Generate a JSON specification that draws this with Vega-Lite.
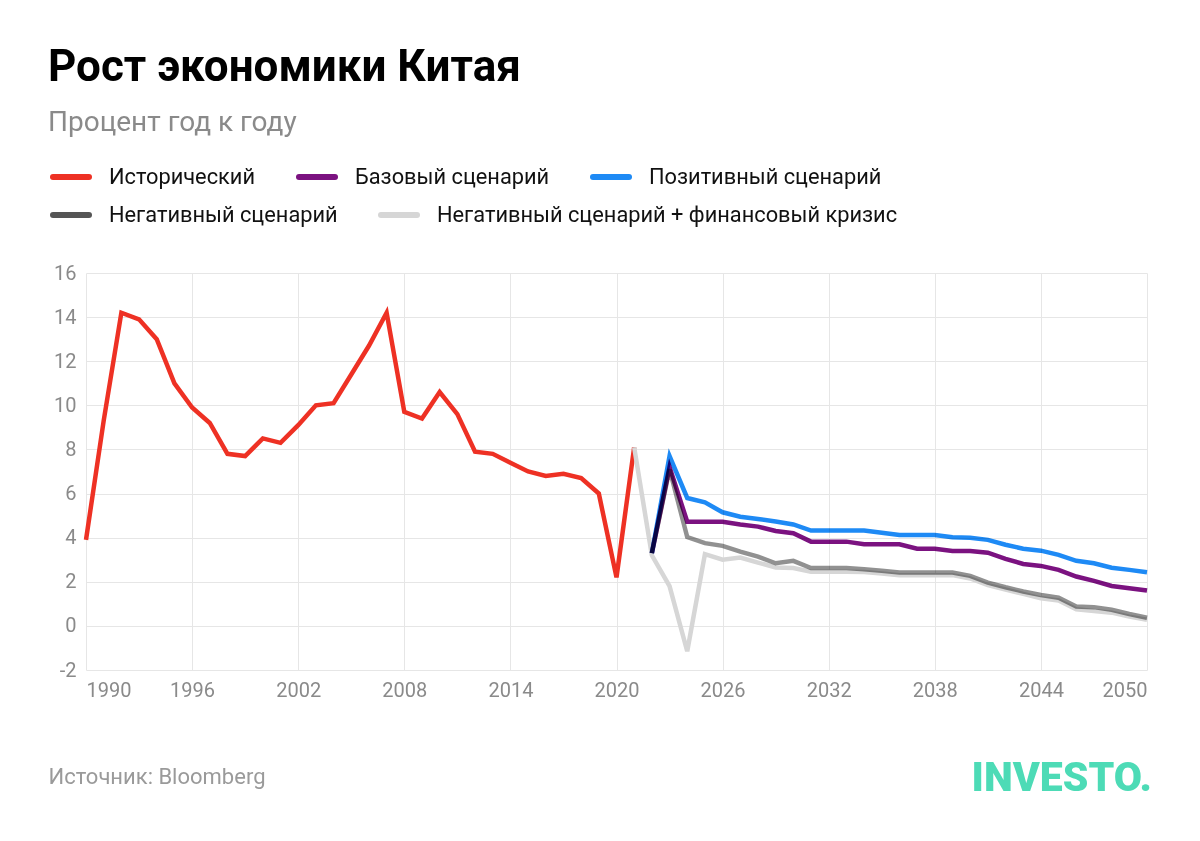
{
  "$schema": "https://vega.github.io/schema/vega-lite/v6.json",
  "width": 1061,
  "height": 397,
  "autosize": {"type": "none"},
  "padding": {"left": 86, "top": 273, "right": 53, "bottom": 171},
  "background": "white",
  "title": {
    "text": "Рост экономики Китая",
    "subtitle": "Процент год к году",
    "anchor": "start",
    "frame": "group",
    "dx": -38,
    "offset": 19,
    "font": "Roboto",
    "fontSize": 44,
    "fontWeight": 700,
    "color": "#000000",
    "subtitleFont": "Roboto",
    "subtitleFontSize": 28,
    "subtitleColor": "#8a8a8a",
    "subtitlePadding": 19
  },
  "datasets": {
    "hist": [
      {"year": 1990, "series": "Исторический", "value": 3.9},
      {"year": 1991, "series": "Исторический", "value": 9.3},
      {"year": 1992, "series": "Исторический", "value": 14.2},
      {"year": 1993, "series": "Исторический", "value": 13.9},
      {"year": 1994, "series": "Исторический", "value": 13.0},
      {"year": 1995, "series": "Исторический", "value": 11.0},
      {"year": 1996, "series": "Исторический", "value": 9.9},
      {"year": 1997, "series": "Исторический", "value": 9.2},
      {"year": 1998, "series": "Исторический", "value": 7.8},
      {"year": 1999, "series": "Исторический", "value": 7.7},
      {"year": 2000, "series": "Исторический", "value": 8.5},
      {"year": 2001, "series": "Исторический", "value": 8.3},
      {"year": 2002, "series": "Исторический", "value": 9.1},
      {"year": 2003, "series": "Исторический", "value": 10.0},
      {"year": 2004, "series": "Исторический", "value": 10.1},
      {"year": 2005, "series": "Исторический", "value": 11.4},
      {"year": 2006, "series": "Исторический", "value": 12.7},
      {"year": 2007, "series": "Исторический", "value": 14.2},
      {"year": 2008, "series": "Исторический", "value": 9.7},
      {"year": 2009, "series": "Исторический", "value": 9.4},
      {"year": 2010, "series": "Исторический", "value": 10.6},
      {"year": 2011, "series": "Исторический", "value": 9.6},
      {"year": 2012, "series": "Исторический", "value": 7.9},
      {"year": 2013, "series": "Исторический", "value": 7.8},
      {"year": 2014, "series": "Исторический", "value": 7.4},
      {"year": 2015, "series": "Исторический", "value": 7.0},
      {"year": 2016, "series": "Исторический", "value": 6.8},
      {"year": 2017, "series": "Исторический", "value": 6.9},
      {"year": 2018, "series": "Исторический", "value": 6.7},
      {"year": 2019, "series": "Исторический", "value": 6.0},
      {"year": 2020, "series": "Исторический", "value": 2.2},
      {"year": 2021, "series": "Исторический", "value": 8.1}
    ],
    "crisis": [
      {"year": 2021, "series": "Негативный сценарий + финансовый кризис", "value": 8.1},
      {"year": 2022, "series": "Негативный сценарий + финансовый кризис", "value": 3.2},
      {"year": 2023, "series": "Негативный сценарий + финансовый кризис", "value": 1.8},
      {"year": 2024, "series": "Негативный сценарий + финансовый кризис", "value": -1.15},
      {"year": 2025, "series": "Негативный сценарий + финансовый кризис", "value": 3.25},
      {"year": 2026, "series": "Негативный сценарий + финансовый кризис", "value": 3.0},
      {"year": 2027, "series": "Негативный сценарий + финансовый кризис", "value": 3.1},
      {"year": 2028, "series": "Негативный сценарий + финансовый кризис", "value": 2.87},
      {"year": 2029, "series": "Негативный сценарий + финансовый кризис", "value": 2.65},
      {"year": 2030, "series": "Негативный сценарий + финансовый кризис", "value": 2.62},
      {"year": 2031, "series": "Негативный сценарий + финансовый кризис", "value": 2.46},
      {"year": 2032, "series": "Негативный сценарий + финансовый кризис", "value": 2.46},
      {"year": 2033, "series": "Негативный сценарий + финансовый кризис", "value": 2.46},
      {"year": 2034, "series": "Негативный сценарий + финансовый кризис", "value": 2.44},
      {"year": 2035, "series": "Негативный сценарий + финансовый кризис", "value": 2.38},
      {"year": 2036, "series": "Негативный сценарий + финансовый кризис", "value": 2.3},
      {"year": 2037, "series": "Негативный сценарий + финансовый кризис", "value": 2.3},
      {"year": 2038, "series": "Негативный сценарий + финансовый кризис", "value": 2.3},
      {"year": 2039, "series": "Негативный сценарий + финансовый кризис", "value": 2.3},
      {"year": 2040, "series": "Негативный сценарий + финансовый кризис", "value": 2.15},
      {"year": 2041, "series": "Негативный сценарий + финансовый кризис", "value": 1.85},
      {"year": 2042, "series": "Негативный сценарий + финансовый кризис", "value": 1.65},
      {"year": 2043, "series": "Негативный сценарий + финансовый кризис", "value": 1.45},
      {"year": 2044, "series": "Негативный сценарий + финансовый кризис", "value": 1.25},
      {"year": 2045, "series": "Негативный сценарий + финансовый кризис", "value": 1.15},
      {"year": 2046, "series": "Негативный сценарий + финансовый кризис", "value": 0.75},
      {"year": 2047, "series": "Негативный сценарий + финансовый кризис", "value": 0.68},
      {"year": 2048, "series": "Негативный сценарий + финансовый кризис", "value": 0.6},
      {"year": 2049, "series": "Негативный сценарий + финансовый кризис", "value": 0.42},
      {"year": 2050, "series": "Негативный сценарий + финансовый кризис", "value": 0.28}
    ],
    "scen": [
      {"year": 2022, "series": "Позитивный сценарий", "value": 3.3},
      {"year": 2023, "series": "Позитивный сценарий", "value": 7.7},
      {"year": 2024, "series": "Позитивный сценарий", "value": 5.8},
      {"year": 2025, "series": "Позитивный сценарий", "value": 5.6},
      {"year": 2026, "series": "Позитивный сценарий", "value": 5.15},
      {"year": 2027, "series": "Позитивный сценарий", "value": 4.95},
      {"year": 2028, "series": "Позитивный сценарий", "value": 4.85},
      {"year": 2029, "series": "Позитивный сценарий", "value": 4.73},
      {"year": 2030, "series": "Позитивный сценарий", "value": 4.6},
      {"year": 2031, "series": "Позитивный сценарий", "value": 4.32},
      {"year": 2032, "series": "Позитивный сценарий", "value": 4.32},
      {"year": 2033, "series": "Позитивный сценарий", "value": 4.32},
      {"year": 2034, "series": "Позитивный сценарий", "value": 4.32},
      {"year": 2035, "series": "Позитивный сценарий", "value": 4.22},
      {"year": 2036, "series": "Позитивный сценарий", "value": 4.12},
      {"year": 2037, "series": "Позитивный сценарий", "value": 4.12},
      {"year": 2038, "series": "Позитивный сценарий", "value": 4.12},
      {"year": 2039, "series": "Позитивный сценарий", "value": 4.02},
      {"year": 2040, "series": "Позитивный сценарий", "value": 4.0},
      {"year": 2041, "series": "Позитивный сценарий", "value": 3.9},
      {"year": 2042, "series": "Позитивный сценарий", "value": 3.68},
      {"year": 2043, "series": "Позитивный сценарий", "value": 3.5},
      {"year": 2044, "series": "Позитивный сценарий", "value": 3.41},
      {"year": 2045, "series": "Позитивный сценарий", "value": 3.22},
      {"year": 2046, "series": "Позитивный сценарий", "value": 2.95},
      {"year": 2047, "series": "Позитивный сценарий", "value": 2.84},
      {"year": 2048, "series": "Позитивный сценарий", "value": 2.64},
      {"year": 2049, "series": "Позитивный сценарий", "value": 2.54},
      {"year": 2050, "series": "Позитивный сценарий", "value": 2.43},
      {"year": 2022, "series": "Базовый сценарий", "value": 3.3},
      {"year": 2023, "series": "Базовый сценарий", "value": 7.2},
      {"year": 2024, "series": "Базовый сценарий", "value": 4.72},
      {"year": 2025, "series": "Базовый сценарий", "value": 4.72},
      {"year": 2026, "series": "Базовый сценарий", "value": 4.72},
      {"year": 2027, "series": "Базовый сценарий", "value": 4.6},
      {"year": 2028, "series": "Базовый сценарий", "value": 4.5},
      {"year": 2029, "series": "Базовый сценарий", "value": 4.3},
      {"year": 2030, "series": "Базовый сценарий", "value": 4.2},
      {"year": 2031, "series": "Базовый сценарий", "value": 3.82},
      {"year": 2032, "series": "Базовый сценарий", "value": 3.82},
      {"year": 2033, "series": "Базовый сценарий", "value": 3.82},
      {"year": 2034, "series": "Базовый сценарий", "value": 3.7},
      {"year": 2035, "series": "Базовый сценарий", "value": 3.7},
      {"year": 2036, "series": "Базовый сценарий", "value": 3.7},
      {"year": 2037, "series": "Базовый сценарий", "value": 3.5},
      {"year": 2038, "series": "Базовый сценарий", "value": 3.5},
      {"year": 2039, "series": "Базовый сценарий", "value": 3.4},
      {"year": 2040, "series": "Базовый сценарий", "value": 3.4},
      {"year": 2041, "series": "Базовый сценарий", "value": 3.32},
      {"year": 2042, "series": "Базовый сценарий", "value": 3.04},
      {"year": 2043, "series": "Базовый сценарий", "value": 2.81},
      {"year": 2044, "series": "Базовый сценарий", "value": 2.72},
      {"year": 2045, "series": "Базовый сценарий", "value": 2.54},
      {"year": 2046, "series": "Базовый сценарий", "value": 2.24},
      {"year": 2047, "series": "Базовый сценарий", "value": 2.04},
      {"year": 2048, "series": "Базовый сценарий", "value": 1.81},
      {"year": 2049, "series": "Базовый сценарий", "value": 1.71},
      {"year": 2050, "series": "Базовый сценарий", "value": 1.6}
    ],
    "neg": [
      {"year": 2022, "series": "Негативный сценарий", "value": 3.3},
      {"year": 2023, "series": "Негативный сценарий", "value": 7.1},
      {"year": 2024, "series": "Негативный сценарий", "value": 4.03},
      {"year": 2025, "series": "Негативный сценарий", "value": 3.75},
      {"year": 2026, "series": "Негативный сценарий", "value": 3.63},
      {"year": 2027, "series": "Негативный сценарий", "value": 3.37},
      {"year": 2028, "series": "Негативный сценарий", "value": 3.14},
      {"year": 2029, "series": "Негативный сценарий", "value": 2.84},
      {"year": 2030, "series": "Негативный сценарий", "value": 2.95},
      {"year": 2031, "series": "Негативный сценарий", "value": 2.62},
      {"year": 2032, "series": "Негативный сценарий", "value": 2.62},
      {"year": 2033, "series": "Негативный сценарий", "value": 2.62},
      {"year": 2034, "series": "Негативный сценарий", "value": 2.57},
      {"year": 2035, "series": "Негативный сценарий", "value": 2.5},
      {"year": 2036, "series": "Негативный сценарий", "value": 2.42},
      {"year": 2037, "series": "Негативный сценарий", "value": 2.42},
      {"year": 2038, "series": "Негативный сценарий", "value": 2.42},
      {"year": 2039, "series": "Негативный сценарий", "value": 2.42},
      {"year": 2040, "series": "Негативный сценарий", "value": 2.27},
      {"year": 2041, "series": "Негативный сценарий", "value": 1.96},
      {"year": 2042, "series": "Негативный сценарий", "value": 1.75},
      {"year": 2043, "series": "Негативный сценарий", "value": 1.56},
      {"year": 2044, "series": "Негативный сценарий", "value": 1.4},
      {"year": 2045, "series": "Негативный сценарий", "value": 1.28},
      {"year": 2046, "series": "Негативный сценарий", "value": 0.88},
      {"year": 2047, "series": "Негативный сценарий", "value": 0.85},
      {"year": 2048, "series": "Негативный сценарий", "value": 0.73},
      {"year": 2049, "series": "Негативный сценарий", "value": 0.54},
      {"year": 2050, "series": "Негативный сценарий", "value": 0.37}
    ]
  },
  "layer": [
    {
      "data": {"name": "hist"},
      "mark": {"type": "line", "strokeWidth": 4.5},
      "encoding": {
        "x": {
          "field": "year", "type": "quantitative",
          "scale": {"domain": [1990, 2050], "nice": false, "zero": false},
          "axis": {
            "values": [1990, 1996, 2002, 2008, 2014, 2020, 2026, 2032, 2038, 2044, 2050],
            "format": "d", "labelFlush": true, "labelPadding": 10, "grid": true,
            "title": "Источник: Bloomberg", "titleX": -38, "titleY": 106,
            "titleAlign": "left", "titleAnchor": "start", "titleBaseline": "middle",
            "titleFont": "Roboto", "titleFontSize": 22, "titleFontWeight": "normal", "titleColor": "#9a9a9a"
          }
        },
        "y": {
          "field": "value", "type": "quantitative",
          "scale": {"domain": [-2, 16], "nice": false},
          "axis": {
            "values": [-2, 0, 2, 4, 6, 8, 10, 12, 14, 16], "title": null, "labelPadding": 10, "grid": true,
            "labelExpr": "replace(datum.label, '−', '-')"
          }
        },
        "color": {
          "field": "series", "type": "nominal",
          "scale": {
            "domain": ["Исторический", "Базовый сценарий", "Позитивный сценарий"],
            "range": ["#ee3124", "#7b1280", "#1e8af5"]
          },
          "legend": {
            "orient": "none", "legendX": -36, "legendY": -117, "direction": "horizontal", "title": null,
            "encode": {"symbols": {"update": {"strokeCap": {"value": "round"}}}}
          }
        }
      }
    },
    {
      "data": {"name": "crisis"},
      "mark": {"type": "line", "strokeWidth": 4.5},
      "encoding": {
        "x": {"field": "year", "type": "quantitative"},
        "y": {"field": "value", "type": "quantitative"},
        "stroke": {
          "field": "series", "type": "nominal",
          "scale": {
            "domain": ["Негативный сценарий", "Негативный сценарий + финансовый кризис"],
            "range": ["#555555", "#d6d6d6"]
          },
          "legend": {
            "orient": "none", "legendX": -36, "legendY": -79, "direction": "horizontal", "title": null,
            "encode": {"symbols": {"update": {"strokeCap": {"value": "round"}}}}
          }
        }
      }
    },
    {
      "data": {"name": "scen"},
      "mark": {"type": "line", "strokeWidth": 4.5, "blend": "multiply"},
      "encoding": {
        "x": {"field": "year", "type": "quantitative"},
        "y": {"field": "value", "type": "quantitative"},
        "color": {"field": "series", "type": "nominal"}
      }
    },
    {
      "data": {"name": "neg"},
      "mark": {"type": "line", "strokeWidth": 4.5, "blend": "multiply", "opacity": 0.65},
      "encoding": {
        "x": {"field": "year", "type": "quantitative"},
        "y": {"field": "value", "type": "quantitative"},
        "stroke": {"field": "series", "type": "nominal"}
      }
    },
    {
      "data": {"values": [{}]},
      "mark": {
        "type": "text", "text": "INVESTO.", "font": "Roboto", "fontWeight": 900,
        "fontSize": 41, "color": "#4ddbb6", "align": "right", "baseline": "alphabetic", "dx": 5, "dy": 121
      },
      "encoding": {
        "x": {"datum": 2050},
        "y": {"datum": -2}
      }
    }
  ],
  "config": {
    "view": {"stroke": null},
    "legend": {
      "symbolType": "stroke", "symbolSize": 1296, "symbolStrokeWidth": 6, "symbolOpacity": 1,
      "labelFont": "Roboto", "labelFontSize": 21.8, "labelColor": "#111111", "labelOffset": 17,
      "columnPadding": 31, "rowPadding": 4, "labelLimit": 600, "padding": 0
    },
    "axis": {
      "labelFont": "Roboto", "labelFontSize": 20, "labelColor": "#8a8a8a",
      "gridColor": "#e6e6e6", "gridWidth": 1, "domain": false, "ticks": false
    }
  }
}
